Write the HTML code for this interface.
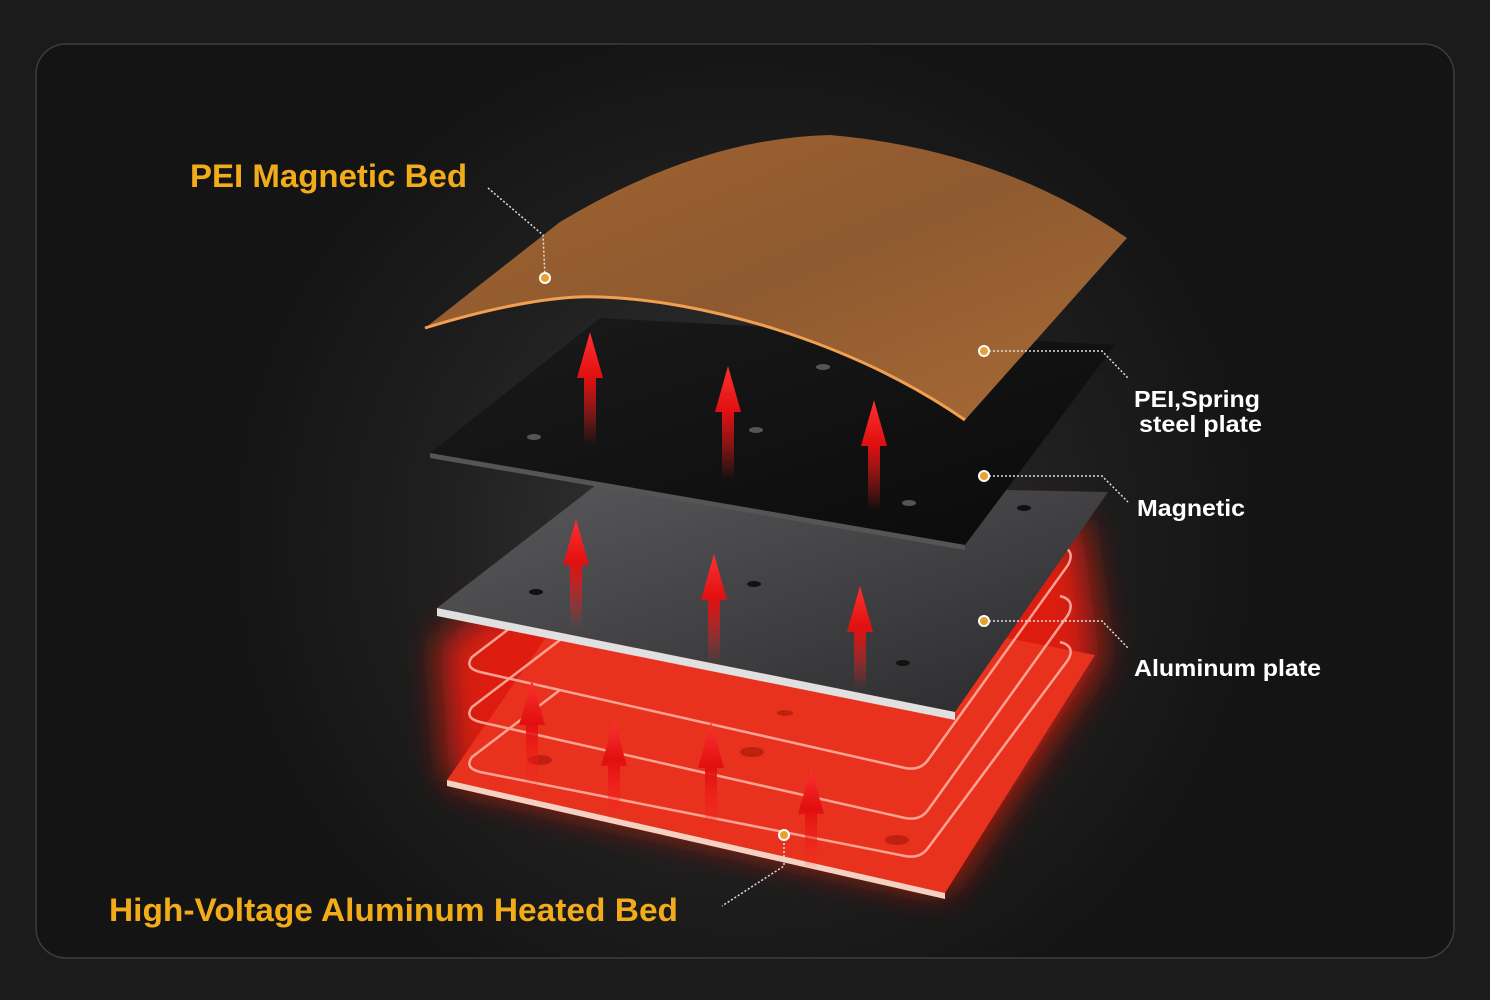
<!DOCTYPE html>
<html><head><meta charset="utf-8"><style>
html,body{margin:0;padding:0;background:#1b1b1b;}
svg{display:block}
text{font-family:"Liberation Sans",sans-serif;font-weight:bold}
</style></head><body>
<svg width="1490" height="1000" viewBox="0 0 1490 1000" xmlns="http://www.w3.org/2000/svg">
<defs>
<radialGradient id="bg" cx="745" cy="540" r="520" gradientUnits="userSpaceOnUse">
<stop offset="0" stop-color="#3a3a3a"/><stop offset="0.6" stop-color="#1f1f1f"/><stop offset="1" stop-color="#141414"/>
</radialGradient>
<linearGradient id="pei" x1="0" y1="0" x2="1" y2="1">
<stop offset="0" stop-color="#a0632e"/><stop offset="0.5" stop-color="#8f5a30"/><stop offset="1" stop-color="#a86a35"/>
</linearGradient>
<linearGradient id="al" x1="0" y1="0" x2="1" y2="1">
<stop offset="0" stop-color="#5a5a5c"/><stop offset="1" stop-color="#2a2a2c"/>
</linearGradient>
<linearGradient id="mag" x1="0" y1="0" x2="1" y2="1">
<stop offset="0" stop-color="#1a1a1a"/><stop offset="1" stop-color="#0a0a0a"/>
</linearGradient>
<linearGradient id="arr" x1="0" y1="1" x2="0" y2="0">
<stop offset="0" stop-color="#ff2020" stop-opacity="0"/><stop offset="0.6" stop-color="#e01010"/><stop offset="1" stop-color="#ff3030"/>
</linearGradient>
<filter id="glow" x="-30%" y="-30%" width="160%" height="160%"><feGaussianBlur stdDeviation="18"/></filter>
</defs>
<rect x="36" y="44" width="1418" height="914" rx="30" fill="url(#bg)" stroke="#3c3c3c" stroke-width="1.5"/>

<!-- heated bed glow -->
<polygon points="440,640 600,540 1080,520 1100,660 945,890 450,780" fill="#ff1a10" filter="url(#glow)" opacity="0.85"/>
<polygon points="447,780 945,893 1095,655 600,560" fill="#e8321e"/>
<polygon points="447,780 945,893 945,899 447,786" fill="#f6d0c0"/>
<g fill="none" stroke="#ffb0a0" stroke-width="2.5" opacity="0.9">
<path d="M560,590 L472,657 Q464,668 480,672 L905,768 Q920,771 928,760 L1068,565 Q1076,550 1060,546"/>
<path d="M560,640 L472,707 Q464,718 480,722 L905,818 Q920,821 928,810 L1068,615 Q1076,600 1060,596"/>
<path d="M560,690 L472,757 Q464,768 480,772 L905,856 Q920,859 928,848 L1068,660 Q1076,646 1060,642"/>
</g>
<g fill="#c02010"><ellipse cx="540" cy="760" rx="12" ry="5"/><ellipse cx="752" cy="752" rx="12" ry="5"/><ellipse cx="897" cy="840" rx="12" ry="5"/><ellipse cx="785" cy="713" rx="8" ry="3"/></g>

<!-- aluminum plate -->
<polygon points="437,608 955,712 1108,492 600,482" fill="url(#al)"/>
<polygon points="437,608 955,712 955,720 437,616" fill="#e0e0e0"/>
<g fill="#111"><ellipse cx="536" cy="592" rx="7" ry="3"/><ellipse cx="754" cy="584" rx="7" ry="3"/><ellipse cx="903" cy="663" rx="7" ry="3"/><ellipse cx="1024" cy="508" rx="7" ry="3"/></g>

<!-- magnetic -->
<polygon points="430,453 965,545 1115,345 600,318" fill="url(#mag)"/>
<polygon points="430,453 965,545 965,550 430,458" fill="#555"/>
<g fill="#555"><ellipse cx="534" cy="437" rx="7" ry="3"/><ellipse cx="756" cy="430" rx="7" ry="3"/><ellipse cx="909" cy="503" rx="7" ry="3"/><ellipse cx="823" cy="367" rx="7" ry="3"/></g>

<!-- PEI -->
<path d="M425,328 L560,222 Q700,138 830,135 Q1000,150 1127,238 L965,420 C850,340 700,300 600,297 C560,295 500,305 425,328Z" fill="url(#pei)"/>
<path d="M425,328 C500,305 560,295 600,297 C700,300 850,340 965,420" fill="none" stroke="#f0a050" stroke-width="3"/>

<!-- arrows -->
<g fill="url(#arr)">
<path d="M584,445 L584,378 L577,378 L590,332 L603,378 L596,378 L596,445Z"/>
<path d="M722,480 L722,412 L715,412 L728,366 L741,412 L734,412 L734,480Z"/>
<path d="M868,510 L868,446 L861,446 L874,400 L887,446 L880,446 L880,510Z"/>
<path d="M570,630 L570,565 L563,565 L576,519 L589,565 L582,565 L582,630Z"/>
<path d="M708,665 L708,600 L701,600 L714,554 L727,600 L720,600 L720,665Z"/>
<path d="M854,690 L854,632 L847,632 L860,586 L873,632 L866,632 L866,690Z"/>
<path d="M526,790 L526,725 L519,725 L532,680 L545,725 L538,725 L538,790Z"/>
<path d="M608,820 L608,766 L601,766 L614,720 L627,766 L620,766 L620,820Z"/>
<path d="M705,835 L705,768 L698,768 L711,722 L724,768 L717,768 L717,835Z"/>
<path d="M805,870 L805,814 L798,814 L811,768 L824,814 L817,814 L817,870Z"/>
</g>

<!-- leaders -->
<g fill="none" stroke="#ddd" stroke-width="1.5" stroke-dasharray="2,2">
<path d="M488,188 L543,235 L545,277"/>
<path d="M985,351 L1102,351 L1128,378"/>
<path d="M985,476 L1102,476 L1128,502"/>
<path d="M985,621 L1102,621 L1128,648"/>
<path d="M784,835 L784,866 L722,906"/>
</g>
<g fill="#e8a030" stroke="#fff" stroke-width="2">
<circle cx="545" cy="278" r="5"/><circle cx="984" cy="351" r="5"/><circle cx="984" cy="476" r="5"/><circle cx="984" cy="621" r="5"/><circle cx="784" cy="835" r="5"/>
</g>

<text x="190" y="187" font-size="32" fill="#f2ac1a" textLength="277" lengthAdjust="spacingAndGlyphs">PEI Magnetic Bed</text>
<text x="109" y="921" font-size="32" fill="#f2ac1a" textLength="569" lengthAdjust="spacingAndGlyphs">High-Voltage Aluminum Heated Bed</text>
<text x="1134" y="407" font-size="23" fill="#fff" textLength="126" lengthAdjust="spacingAndGlyphs">PEI,Spring</text>
<text x="1139" y="432" font-size="23" fill="#fff" textLength="123" lengthAdjust="spacingAndGlyphs">steel plate</text>
<text x="1137" y="516" font-size="23" fill="#fff" textLength="108" lengthAdjust="spacingAndGlyphs">Magnetic</text>
<text x="1134" y="676" font-size="23" fill="#fff" textLength="187" lengthAdjust="spacingAndGlyphs">Aluminum plate</text>
</svg>
</body></html>
